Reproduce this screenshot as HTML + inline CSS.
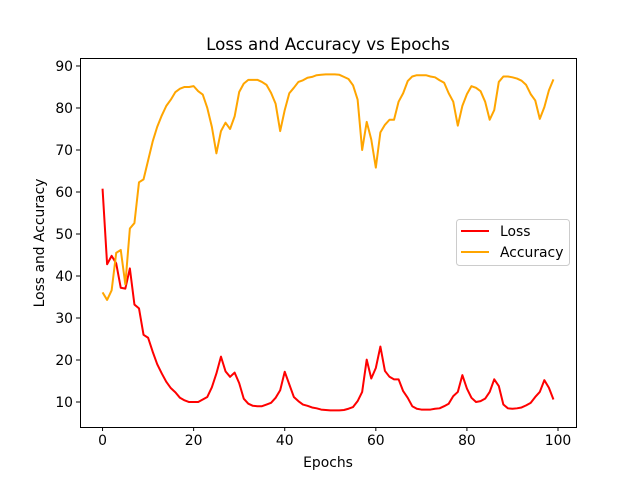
<!DOCTYPE html>
<html><head><meta charset="utf-8"><style>
body{margin:0;background:#fff;}
svg{display:block;font-family:"DejaVu Sans","Liberation Sans",sans-serif;}
</style></head><body>
<svg id="chart" width="640" height="480">
<rect width="640" height="480" fill="#fff"/>
<text x="328" y="50" text-anchor="middle" font-size="16.7">Loss and Accuracy vs Epochs</text>
<g id="plot"></g>
<text x="328" y="467" text-anchor="middle" font-size="13.9">Epochs</text>
<text transform="translate(44,243) rotate(-90)" text-anchor="middle" font-size="13.9">Loss and Accuracy</text>
<g>
<rect x="456.5" y="219.5" width="113" height="46" rx="3" fill="#fff" stroke="#ccc"/>
<line x1="461" y1="231" x2="489" y2="231" stroke="red" stroke-width="2"/>
<text x="500" y="236" font-size="13.9">Loss</text>
<line x1="461" y1="252" x2="489" y2="252" stroke="orange" stroke-width="2"/>
<text x="500" y="257" font-size="13.9">Accuracy</text>
</g>
</svg>
<script>
const lossValues=[60.8,42.8,44.8,43,37.2,37,41.8,33.2,32.3,26,25.3,22,19,16.8,14.8,13.3,12.3,11,10.4,10,10,10,10.6,11.2,13.5,16.8,20.8,17.3,16,17,14.5,10.8,9.6,9.1,9,9,9.4,9.8,11,12.8,17.2,14.2,11.2,10.2,9.4,9.1,8.7,8.5,8.2,8.1,8,8,8,8.1,8.4,8.8,10.2,12.4,20.1,15.6,18.1,23.2,17.4,16,15.4,15.4,12.6,11,9,8.4,8.2,8.2,8.2,8.4,8.5,9,9.6,11.4,12.4,16.4,13.2,11,10,10.2,10.8,12.4,15.4,13.8,9.4,8.5,8.4,8.5,8.7,9.2,9.8,11.2,12.4,15.2,13.4,10.6];
const accuracyValues=[36.1,34.3,36.6,45.5,46.2,38,51.3,52.6,62.3,63,67.5,72,75.5,78.2,80.5,82,83.8,84.6,85,85,85.2,84,83.2,80,75.5,69.2,74.5,76.5,75,78,83.8,85.8,86.7,86.7,86.7,86.2,85.5,83.6,81,74.5,79.5,83.5,84.8,86.2,86.6,87.2,87.4,87.8,87.9,88,88,88,87.9,87.4,86.9,85.4,82,70,76.7,72.5,65.8,74.2,76,77.2,77.2,81.5,83.5,86.4,87.5,87.8,87.8,87.8,87.5,87.3,86.6,86,83.5,81.5,75.8,80.5,83.3,85.2,84.8,84,81.5,77.2,79.5,86.2,87.5,87.5,87.3,87,86.5,85.5,83.3,81.8,77.4,80.2,84.2,86.8];
const xTicks=[0,20,40,60,80,100];
const yTicks=[10,20,30,40,50,60,70,80,90];
const L=80,R=576,T=58,B=427;
const xMin=-4.95,xMax=103.95,yMin=4.05,yMax=91.9;
const sx=v=>L+(v-xMin)/(xMax-xMin)*(R-L);
const sy=v=>B-(v-yMin)/(yMax-yMin)*(B-T);
const NS="http://www.w3.org/2000/svg";
const g=document.getElementById('plot');
function mk(t,a){const e=document.createElementNS(NS,t);for(const k in a)e.setAttribute(k,a[k]);g.appendChild(e);return e;}
function series(vals,color,name){
  const d=vals.map((v,i)=>(i?'L':'M')+sx(i).toFixed(2)+','+sy(v).toFixed(2)).join('');
  const p=mk('path',{d:d,fill:'none',stroke:color,'stroke-width':2,'stroke-linejoin':'round'});
  
  
}
series(lossValues,'red','loss-line');
series(accuracyValues,'orange','accuracy-line');
const frame=mk('rect',{x:L+0.5,y:T+0.5,width:R-L,height:B-T,fill:'none',stroke:'#000','stroke-width':1});


xTicks.forEach(v=>{
  const x=sx(v);
  const tk=mk('line',{x1:x,y1:B,x2:x,y2:B+4,stroke:'#000'});
  
  
  const t=mk('text',{x:x,y:B+18,'text-anchor':'middle','font-size':13.9});
  t.textContent=v;
  
  
});
yTicks.forEach(v=>{
  const y=sy(v);
  const tk=mk('line',{x1:L-4,y1:y,x2:L,y2:y,stroke:'#000'});
  
  
  const t=mk('text',{x:L-7,y:y+5,'text-anchor':'end','font-size':13.9});
  t.textContent=v;
  
  
});
</script>
</body></html>
